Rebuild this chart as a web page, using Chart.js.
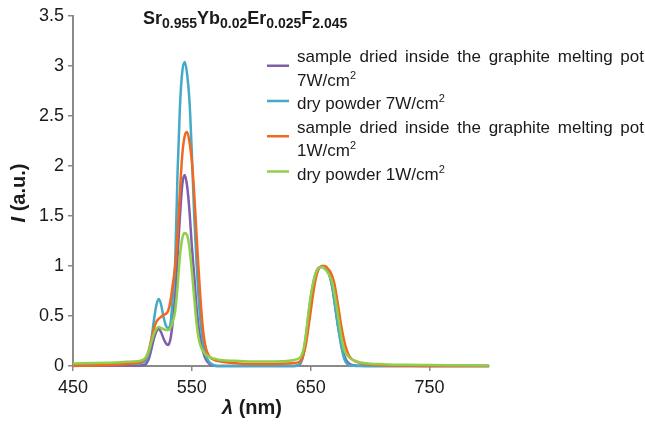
<!DOCTYPE html>
<html>
<head>
<meta charset="utf-8">
<script src="https://cdn.jsdelivr.net/npm/chart.js@4.4.1/dist/chart.umd.min.js"></script>
<style>
  html, body { margin: 0; padding: 0; background: #ffffff; }
  #wrap { width: 645px; height: 426px; }
</style>
</head>
<body>
<div id="wrap"><canvas id="espectro" width="645" height="426"></canvas></div>
<script>
// --- datos del espectro de emisión ---
const wavelengths = [
  450, 470, 490, 500, 506, 510, 512, 514, 516, 518, 520, 522, 524, 526, 528, 530,
  532, 534, 536, 538, 540, 542, 544, 546, 548, 550, 552, 554, 556, 558, 560, 562,
  564, 566, 568, 570, 574, 580, 590, 600, 615, 630, 636, 640, 642, 644, 646, 648,
  650, 652, 654, 656, 658, 660, 662, 664, 666, 668, 670, 672, 674, 676, 678, 680,
  682, 684, 688, 692, 698, 705, 715, 730, 750, 775, 800
];

// muestra secada en crisol de grafito, 7 W/cm2
const dried7W = [
  0.003, 0.003, 0.004, 0.005, 0.006, 0.01, 0.03, 0.08, 0.17, 0.27, 0.34, 0.37, 0.34, 0.28, 0.23, 0.21,
  0.27, 0.45, 0.72, 1.1, 1.5, 1.82, 1.91, 1.8, 1.55, 1.2, 0.9, 0.58, 0.36, 0.22, 0.12, 0.06,
  0.03, 0.012, 0.004, 0, 0, 0, 0, 0, 0, 0, 0, 0.01, 0.04, 0.12, 0.27, 0.46,
  0.65, 0.8, 0.91, 0.97, 0.99, 1.0, 0.98, 0.95, 0.9, 0.8, 0.65, 0.48, 0.33, 0.2, 0.11, 0.055,
  0.028, 0.014, 0.005, 0.002, 0, 0, 0, 0, 0, 0, 0
];

// polvo seco, 7 W/cm2
const powder7W = [
  0.015, 0.018, 0.02, 0.025, 0.03, 0.04, 0.07, 0.14, 0.27, 0.45, 0.6, 0.67, 0.62, 0.5, 0.41, 0.38,
  0.42, 0.7, 1.05, 1.95, 2.6, 2.95, 3.04, 2.92, 2.65, 2.12, 1.5, 1.02, 0.62, 0.36, 0.2, 0.1,
  0.05, 0.025, 0.01, 0.003, 0, 0, 0, 0, 0, 0, 0, 0.01, 0.05, 0.14, 0.3, 0.5,
  0.68, 0.82, 0.92, 0.97, 0.99, 0.99, 0.97, 0.95, 0.9, 0.8, 0.64, 0.47, 0.32, 0.18, 0.08, 0.03,
  0.01, 0.004, 0, 0, 0, 0, 0, 0, 0, 0, 0
];

// muestra secada en crisol de grafito, 1 W/cm2
const dried1W = [
  0.0, 0.005, 0.015, 0.025, 0.035, 0.06, 0.1, 0.17, 0.27, 0.37, 0.44, 0.47, 0.49, 0.51, 0.52, 0.55,
  0.65, 0.82, 1.0, 1.32, 1.75, 2.12, 2.3, 2.34, 2.24, 2.05, 1.72, 1.3, 0.9, 0.55, 0.3, 0.17,
  0.11, 0.08, 0.065, 0.055, 0.045, 0.035, 0.025, 0.02, 0.02, 0.025, 0.03, 0.04, 0.06, 0.12, 0.22, 0.38,
  0.55, 0.72, 0.86, 0.95, 0.99, 1.0, 1.0, 0.98, 0.95, 0.9, 0.82, 0.68, 0.53, 0.38, 0.26, 0.17,
  0.11, 0.075, 0.045, 0.028, 0.017, 0.01, 0.006, 0.003, 0, 0, 0
];

// polvo seco, 1 W/cm2
const powder1W = [
  0.025, 0.03, 0.038, 0.045, 0.05, 0.07, 0.1, 0.16, 0.24, 0.32, 0.37, 0.39, 0.38, 0.37, 0.36, 0.36,
  0.38, 0.45, 0.55, 0.8, 1.1, 1.28, 1.33, 1.31, 1.18, 0.95, 0.68, 0.42, 0.26, 0.18, 0.14, 0.11,
  0.095, 0.085, 0.075, 0.07, 0.06, 0.055, 0.05, 0.045, 0.045, 0.05, 0.06, 0.075, 0.1, 0.17, 0.32, 0.52,
  0.7, 0.83, 0.92, 0.97, 0.99, 0.99, 0.97, 0.94, 0.9, 0.84, 0.72, 0.58, 0.42, 0.27, 0.17, 0.12,
  0.09, 0.07, 0.05, 0.035, 0.025, 0.02, 0.015, 0.012, 0.01, 0.008, 0.006
];

// etiquetas (\n = salto de línea, ^{..} = superíndice, _{..} = subíndice)
const seriesLabels = [
  'sample dried inside the graphite melting pot\n7W/cm^{2}',
  'dry powder 7W/cm^{2}',
  'sample dried inside the graphite melting pot\n1W/cm^{2}',
  'dry powder 1W/cm^{2}'
];
const seriesValues = [dried7W, powder7W, dried1W, powder1W];
const seriesColors = ['#7f5fa9', '#45a9c8', '#f1681f', '#8fcf4a'];
const chartTitle = 'Sr_{0.955}Yb_{0.02}Er_{0.025}F_{2.045}';

const xTicks = [450, 550, 650, 750];
const yTicks = [0, 0.5, 1, 1.5, 2, 2.5, 3, 3.5];

const FAMILY = '"Liberation Sans", Arial, sans-serif';
const AXIS_COLOR = '#8a8a8a';
const TEXT_COLOR = '#1a1a1a';

// separa texto en trozos normales / sub / sup
function richParts(str) {
  const parts = [];
  const re = /([_^])\{([^}]*)\}/g;
  let last = 0, m;
  while ((m = re.exec(str))) {
    if (m.index > last) parts.push({ text: str.slice(last, m.index), kind: 'normal' });
    parts.push({ text: m[2], kind: m[1] === '_' ? 'sub' : 'sup' });
    last = re.lastIndex;
  }
  if (last < str.length) parts.push({ text: str.slice(last), kind: 'normal' });
  return parts;
}

function drawRich(ctx, str, x, y, opt) {
  let cx = x;
  richParts(str).forEach(p => {
    let dy = 0;
    if (p.kind === 'normal') ctx.font = opt.font;
    else ctx.font = opt.small;
    if (p.kind === 'sub') dy = opt.subShift;
    if (p.kind === 'sup') dy = opt.supShift;
    ctx.fillText(p.text, cx, y + dy);
    cx += ctx.measureText(p.text).width;
  });
  return cx;
}

// texto justificado a un ancho fijo
function drawJustified(ctx, str, x, y, width) {
  const words = str.split(' ');
  const widths = words.map(w => ctx.measureText(w).width);
  const total = widths.reduce((a, b) => a + b, 0);
  const gap = (width - total) / (words.length - 1);
  let cx = x;
  words.forEach((w, i) => {
    ctx.fillText(w, cx, y);
    cx += widths[i] + gap;
  });
}

const decoraciones = {
  id: 'decoraciones',
  afterDraw(chart) {
    const ctx = chart.ctx;
    ctx.save();
    ctx.fillStyle = TEXT_COLOR;
    ctx.textAlign = 'left';
    ctx.textBaseline = 'alphabetic';

    // título con subíndices
    drawRich(ctx, chartTitle, 143, 24, {
      font: 'bold 18px ' + FAMILY,
      small: 'bold 14px ' + FAMILY,
      subShift: 4, supShift: -6
    });

    // leyenda
    const textX = 297, lineH = 23.5, justW = 347;
    let baseY = 62;
    seriesLabels.forEach((label, i) => {
      const lines = label.split('\n');
      const first = baseY, lastY = baseY + (lines.length - 1) * lineH;
      const my = (first + lastY) / 2 - 8;
      ctx.strokeStyle = seriesColors[i];
      ctx.lineWidth = 2.5;
      ctx.beginPath();
      ctx.moveTo(267, my);
      ctx.lineTo(289, my);
      ctx.stroke();
      lines.forEach((ln, k) => {
        ctx.font = '17px ' + FAMILY;
        if (k < lines.length - 1) {
          drawJustified(ctx, ln, textX, baseY, justW);
        } else {
          drawRich(ctx, ln, textX, baseY, {
            font: '17px ' + FAMILY,
            small: '11px ' + FAMILY,
            subShift: 3, supShift: -7
          });
        }
        baseY += lineH;
      });
    });

    // títulos de los ejes
    ctx.textBaseline = 'middle';
    const it = 'italic bold 20px ' + FAMILY, bd = 'bold 20px ' + FAMILY;

    ctx.font = it;
    const wI = ctx.measureText('I').width;
    ctx.font = bd;
    const wRest = ctx.measureText(' (a.u.)').width;
    ctx.save();
    ctx.translate(19, 193);
    ctx.rotate(-Math.PI / 2);
    let sx = -(wI + wRest) / 2;
    ctx.font = it;
    ctx.fillText('I', sx, 0);
    ctx.font = bd;
    ctx.fillText(' (a.u.)', sx + wI, 0);
    ctx.restore();

    ctx.font = it;
    const wL = ctx.measureText('λ').width;
    ctx.font = bd;
    const wNm = ctx.measureText(' (nm)').width;
    sx = 252 - (wL + wNm) / 2;
    ctx.font = it;
    ctx.fillText('λ', sx, 408);
    ctx.font = bd;
    ctx.fillText(' (nm)', sx + wL, 408);

    ctx.restore();
  }
};

const datasets = seriesValues.map((vals, i) => ({
  label: seriesLabels[i],
  data: wavelengths.map((w, k) => ({ x: w, y: vals[k] })),
  borderColor: seriesColors[i],
  backgroundColor: seriesColors[i],
  borderWidth: 2.5,
  pointRadius: 0,
  fill: false,
  cubicInterpolationMode: 'monotone',
  clip: false,
  order: seriesValues.length - 1 - i   // la última serie queda encima
}));

new Chart(document.getElementById('espectro'), {
  type: 'line',
  data: { datasets: datasets },
  options: {
    responsive: false,
    animation: false,
    devicePixelRatio: 1,
    layout: { padding: { top: 16, right: 156, bottom: 0, left: 0 } },
    plugins: {
      legend: { display: false },
      tooltip: { enabled: false },
      title: { display: false }
    },
    scales: {
      x: {
        type: 'linear',
        min: 450,
        max: 800,
        afterBuildTicks: s => { s.ticks = xTicks.map(v => ({ value: v })); },
        afterFit: s => { s.height = 60; },
        grid: { drawOnChartArea: false, drawTicks: true, tickLength: 5, color: AXIS_COLOR, lineWidth: 1.5 },
        border: { color: AXIS_COLOR, width: 2 },
        ticks: {
          color: TEXT_COLOR,
          font: { family: FAMILY, size: 18 },
          padding: 6,
          maxRotation: 0,
          autoSkip: false,
          callback: v => String(v)
        }
      },
      y: {
        type: 'linear',
        min: 0,
        max: 3.5,
        afterBuildTicks: s => { s.ticks = yTicks.map(v => ({ value: v })); },
        afterFit: s => { s.width = 73; },
        grid: { drawOnChartArea: false, drawTicks: true, tickLength: 5, color: AXIS_COLOR, lineWidth: 1.5 },
        border: { color: AXIS_COLOR, width: 2 },
        ticks: {
          color: TEXT_COLOR,
          font: { family: FAMILY, size: 18 },
          padding: 4,
          autoSkip: false,
          callback: v => String(v)
        }
      }
    }
  },
  plugins: [decoraciones]
});
</script>
</body>
</html>
